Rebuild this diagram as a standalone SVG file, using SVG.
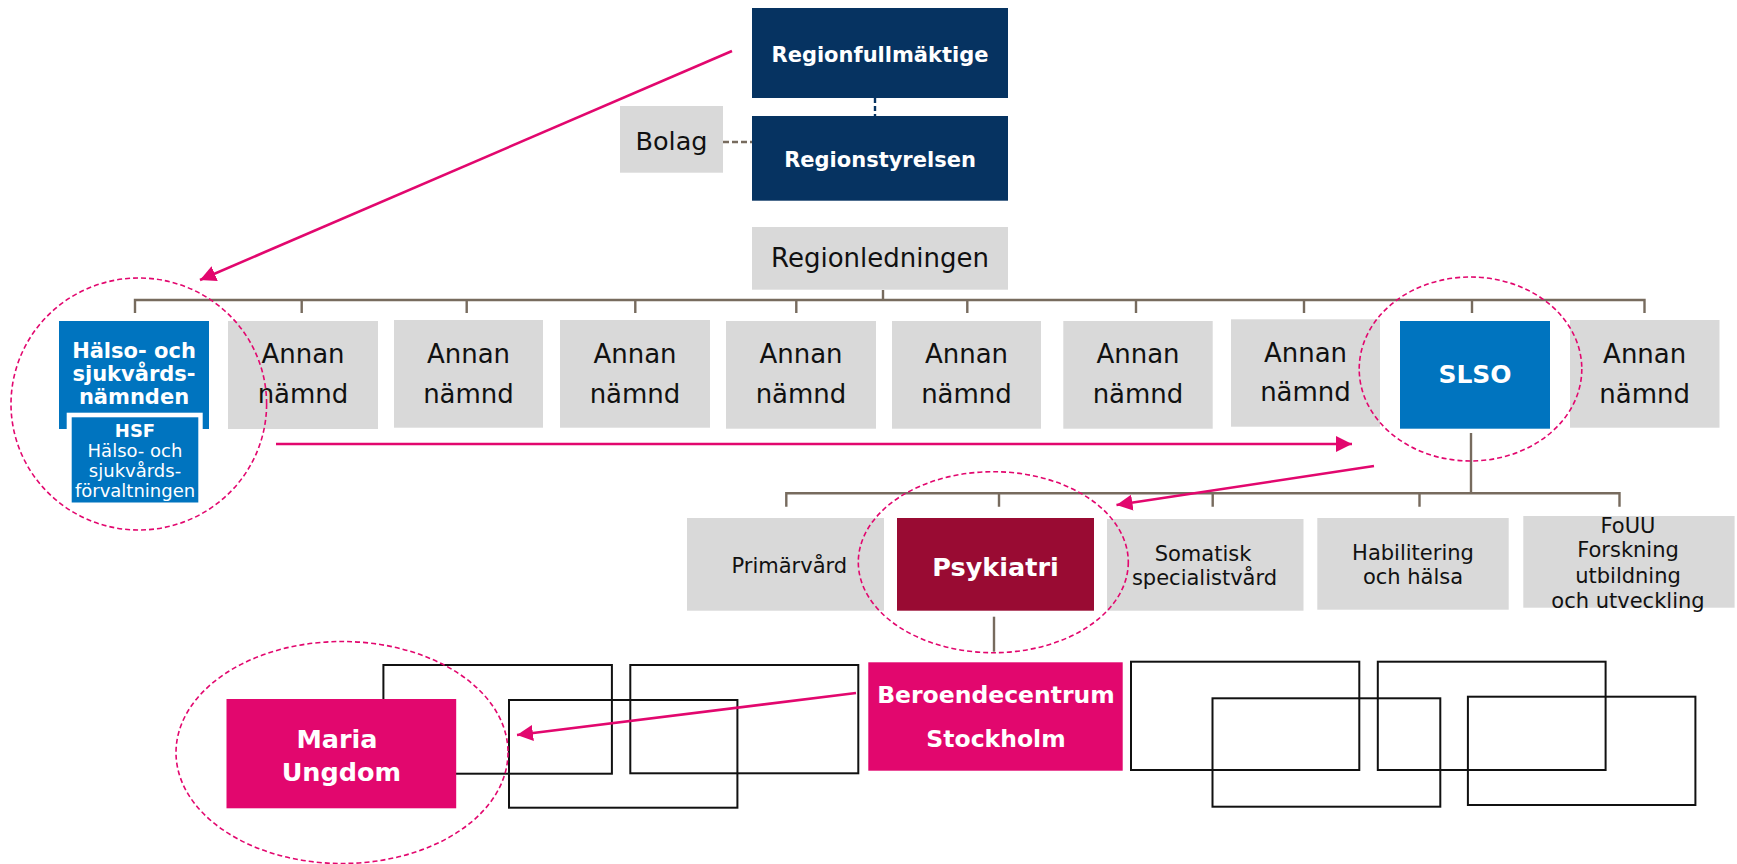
<svg xmlns="http://www.w3.org/2000/svg" width="1737" height="864" viewBox="0 0 1737 864">
<defs>
<style>
text{font-family:"DejaVu Sans","Verdana",sans-serif;text-anchor:middle}
.navy{fill:#063361}
.gray{fill:#D9D9D9}
.blue{fill:#0074BF}
.psy{fill:#990B33}
.pink{fill:#E2076E}
.wb{fill:#fff;font-weight:bold}
.blk{fill:#111}
.t26{font-size:26px}
.t21{font-size:21px}
.conn{stroke:#776B5E;stroke-width:2.4;fill:none}
.arrow{stroke:#E2076E;stroke-width:2.6;fill:none;marker-end:url(#ah)}
.ell{fill:none;stroke:#E2076E;stroke-width:1.6;stroke-dasharray:5 3}
.box{fill:none;stroke:#111;stroke-width:2}
</style>
<marker id="ah" markerUnits="userSpaceOnUse" markerWidth="18" markerHeight="16" refX="16" refY="8" orient="auto">
<path d="M0,0 L16,8 L0,16 Z" fill="#E2076E"/>
</marker>
</defs>
<rect width="1737" height="864" fill="#fff"/>

<g id="connectors">
<line x1="875" y1="98" x2="875" y2="116" stroke="#063361" stroke-width="2.4" stroke-dasharray="5 3"/>
<line x1="723" y1="142" x2="752" y2="142" stroke="#776B5E" stroke-width="2.6" stroke-dasharray="6 3"/>
<line class="conn" x1="883" y1="290" x2="883" y2="300"/>
<path class="conn" d="M135,313 V300 H1644.5 V313 M301.7,300 V313 M466.7,300 V313 M635.3,300 V313 M796.3,300 V313 M967.3,300 V313 M1136,300 V313 M1304,300 V313 M1472,300 V313"/>
<line class="conn" x1="1471" y1="433" x2="1471" y2="493.3"/>
<path class="conn" d="M786.3,506.7 V493.3 H1619.5 V506.7 M999,493.3 V506.7 M1212.7,493.3 V506.7 M1419.5,493.3 V506.7"/>
<line class="conn" x1="994" y1="616.7" x2="994" y2="651.7"/>
</g>

<g id="outline-boxes">
<rect class="box" x="383.4" y="665" width="228.5" height="108.7"/>
<rect class="box" x="509" y="700" width="228.4" height="107.7"/>
<rect class="box" x="630.3" y="665" width="228" height="108.3"/>
<rect class="box" x="1131" y="661.7" width="228.3" height="108.3"/>
<rect class="box" x="1212.5" y="698.3" width="227.8" height="108.4"/>
<rect class="box" x="1377.8" y="661.7" width="227.8" height="108.3"/>
<rect class="box" x="1467.9" y="696.7" width="227.5" height="108.3"/>
</g>

<g id="regionfullmaktige">
<rect class="navy" x="752" y="8" width="256" height="90"/>
<text class="wb" x="880" y="61.7" font-size="21">Regionfullmäktige</text>
</g>
<g id="regionstyrelsen">
<rect class="navy" x="752" y="116" width="256" height="84.7"/>
<text class="wb" x="880" y="166.7" font-size="21">Regionstyrelsen</text>
</g>
<g id="bolag">
<rect class="gray" x="620" y="106" width="103" height="66.7"/>
<text class="blk" x="671.5" y="150" font-size="25.5">Bolag</text>
</g>
<g id="regionledningen">
<rect class="gray" x="752" y="227" width="256" height="62.7"/>
<text class="blk t26" x="880" y="266.7">Regionledningen</text>
</g>

<g id="hsn">
<rect class="blue" x="59" y="321" width="150" height="108"/>
<text class="wb" font-size="21" x="134" y="358.3">Hälso- och</text>
<text class="wb" font-size="21" x="134" y="381">sjukvårds-</text>
<text class="wb" font-size="21" x="134" y="404.3">nämnden</text>
</g>
<g id="hsf">
<rect fill="#fff" x="66.7" y="412.7" width="136" height="90.6"/>
<rect class="blue" x="71.7" y="417.3" width="126.6" height="85.2"/>
<text class="wb" font-size="18" x="135" y="436.7">HSF</text>
<text fill="#fff" font-size="18" x="135" y="457.3">Hälso- och</text>
<text fill="#fff" font-size="18" x="135" y="477.3">sjukvårds-</text>
<text fill="#fff" font-size="18" x="135" y="496.7">förvaltningen</text>
</g>

<g id="annan1"><rect class="gray" x="228" y="321" width="150" height="108"/><text class="blk t26" x="303" y="363.3">Annan</text><text class="blk t26" x="303" y="403.3">nämnd</text></g>
<g id="annan2"><rect class="gray" x="394" y="320" width="149" height="107.7"/><text class="blk t26" x="468.5" y="363.3">Annan</text><text class="blk t26" x="468.5" y="403.3">nämnd</text></g>
<g id="annan3"><rect class="gray" x="560" y="320" width="150" height="107.7"/><text class="blk t26" x="635" y="363.3">Annan</text><text class="blk t26" x="635" y="403.3">nämnd</text></g>
<g id="annan4"><rect class="gray" x="726" y="321" width="150" height="107.7"/><text class="blk t26" x="801" y="363.3">Annan</text><text class="blk t26" x="801" y="403.3">nämnd</text></g>
<g id="annan5"><rect class="gray" x="892" y="321" width="149" height="107.7"/><text class="blk t26" x="966.5" y="363.3">Annan</text><text class="blk t26" x="966.5" y="403.3">nämnd</text></g>
<g id="annan6"><rect class="gray" x="1063.3" y="321" width="149.4" height="107.7"/><text class="blk t26" x="1138" y="363.3">Annan</text><text class="blk t26" x="1138" y="403.3">nämnd</text></g>
<g id="annan7"><rect class="gray" x="1231" y="319.3" width="149" height="107.4"/><text class="blk t26" x="1305.5" y="361.7">Annan</text><text class="blk t26" x="1305.5" y="401.3">nämnd</text></g>
<g id="slso"><rect class="blue" x="1400" y="321" width="150" height="107.7"/><text class="wb" font-size="25" x="1475" y="383.3">SLSO</text></g>
<g id="annan8"><rect class="gray" x="1570" y="320" width="149.5" height="107.7"/><text class="blk t26" x="1644.7" y="362.5">Annan</text><text class="blk t26" x="1644.7" y="402.7">nämnd</text></g>

<g id="primarvard"><rect class="gray" x="687" y="518" width="197" height="92.7"/><text class="blk t21" x="789.3" y="573.3">Primärvård</text></g>
<g id="psykiatri"><rect class="psy" x="897" y="518" width="197" height="92.7"/><text class="wb" font-size="25.5" x="995.5" y="576">Psykiatri</text></g>
<g id="somatisk"><rect class="gray" x="1107" y="519" width="196.5" height="91.7"/><text class="blk t21" x="1203" y="561">Somatisk</text><text class="blk t21" x="1204.5" y="585.3">specialistvård</text></g>
<g id="habilitering"><rect class="gray" x="1317.3" y="518" width="191.4" height="91.7"/><text class="blk t21" x="1413" y="560">Habilitering</text><text class="blk t21" x="1413" y="584">och hälsa</text></g>
<g id="fouu"><rect class="gray" x="1523.3" y="516" width="211.3" height="91.7"/><text class="blk t21" x="1628" y="533.3">FoUU</text><text class="blk t21" x="1628" y="557.3">Forskning</text><text class="blk t21" x="1628" y="582.7">utbildning</text><text class="blk t21" x="1628" y="608.3">och utveckling</text></g>

<g id="beroendecentrum"><rect class="pink" x="868.3" y="662.3" width="254.4" height="108.4"/><text class="wb" font-size="23.5" x="996" y="703.3">Beroendecentrum</text><text class="wb" font-size="23.5" x="996" y="746.7">Stockholm</text></g>
<g id="maria"><rect class="pink" x="226.5" y="699" width="229.7" height="109.3"/><text class="wb" font-size="25.5" x="337" y="748.3">Maria</text><text class="wb" font-size="25.5" x="341.4" y="781">Ungdom</text></g>

<g id="highlights">
<ellipse class="ell" cx="138.8" cy="404" rx="127.8" ry="126"/>
<ellipse class="ell" cx="1470.5" cy="369" rx="111.3" ry="92"/>
<ellipse class="ell" cx="993.3" cy="562.2" rx="135" ry="90.5"/>
<ellipse class="ell" cx="342" cy="752.5" rx="166" ry="111"/>
</g>

<g id="arrows">
<line class="arrow" x1="732" y1="51" x2="200" y2="280"/>
<line class="arrow" x1="276" y1="444" x2="1352" y2="444"/>
<line class="arrow" x1="1374" y1="466" x2="1116.5" y2="505"/>
<line class="arrow" x1="856" y1="693" x2="517" y2="735"/>
</g>
</svg>
